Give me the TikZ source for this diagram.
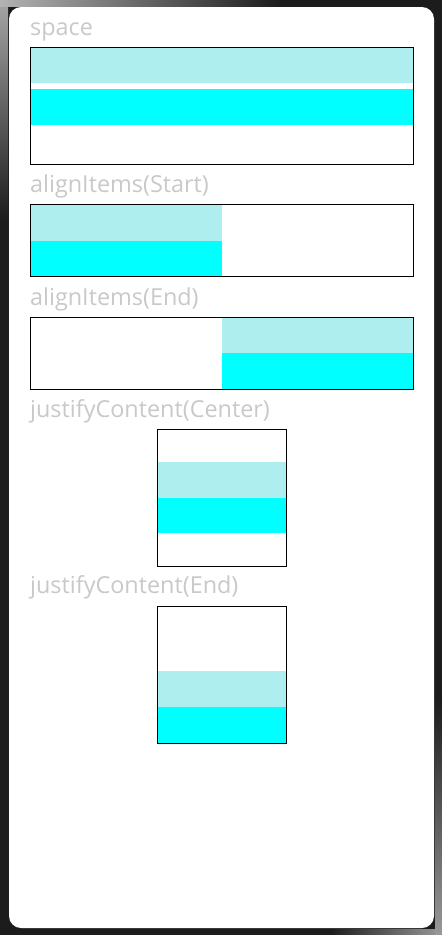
\documentclass[tikz,border=0pt]{standalone}
\usepackage{fontspec}
\setmainfont[Ligatures=NoCommon]{Open Sans}
\definecolor{frame}{HTML}{1C1C1C}
\definecolor{labelgrey}{HTML}{C9C9C9}
\definecolor{paleturq}{HTML}{AFEEEE}
\definecolor{aqua}{HTML}{00FFFF}
\tikzset{
  lbl/.style={anchor=base west, inner sep=0pt, text=labelgrey, font=\fontsize{23.4}{26}\selectfont},
  container/.style={draw=black, line width=1pt, anchor=north west, inner sep=0pt, fill=none},
}
\begin{document}
\begin{tikzpicture}[x=1pt,y=-1pt]
\useasboundingbox (0,0) rectangle (442,935);
\fill[frame] (0,0) rectangle (442,935);
\shade[top color=gray!70, bottom color=frame] (0,0) rectangle (8,220);
\shade[left color=gray!60, right color=frame] (0,0) rectangle (280,6);
\shade[left color=frame, right color=gray!80] (330,929) rectangle (442,935);
\shade[top color=frame, bottom color=gray!80] (435,700) rectangle (442,935);
\fill[white, rounded corners=12pt] (9,7) rectangle (434,928);

% space
\node[lbl] (t1) at (30,35) {space};
\fill[paleturq] (30,47) rectangle (413,83);
\fill[aqua] (30,89) rectangle (413,124.5);
\node[container, minimum width=383pt, minimum height=117pt] (c1) at (30,46.5) {};

% alignItems(Start)
\node[lbl] (t2) at (30,192) {alignItems(Start)};
\fill[paleturq] (30,204.5) rectangle (222,240.5);
\fill[aqua] (30,240.5) rectangle (222,276);
\node[container, minimum width=383pt, minimum height=72pt] (c2) at (30,204.3) {};

% alignItems(End)
\node[lbl] (t3) at (30,305) {alignItems(End)};
\fill[paleturq] (222,317.5) rectangle (413,353);
\fill[aqua] (222,353) rectangle (413,389);
\node[container, minimum width=383pt, minimum height=72pt] (c3) at (30,317.3) {};

% justifyContent(Center)
\node[lbl] (t4) at (30,417) {justifyContent(Center)};
\fill[paleturq] (157.5,462) rectangle (285.5,497.7);
\fill[aqua] (157.5,497.7) rectangle (285.5,533);
\node[container, minimum width=128.3pt, minimum height=136.7pt] (c4) at (157.4,429.3) {};

% justifyContent(End)
\node[lbl] (t5) at (30,593) {justifyContent(End)};
\fill[paleturq] (157.5,671) rectangle (285.5,706.7);
\fill[aqua] (157.5,706.7) rectangle (285.5,742.5);
\node[container, minimum width=128.3pt, minimum height=136.4pt] (c5) at (157.4,606.3) {};
\end{tikzpicture}
\end{document}
